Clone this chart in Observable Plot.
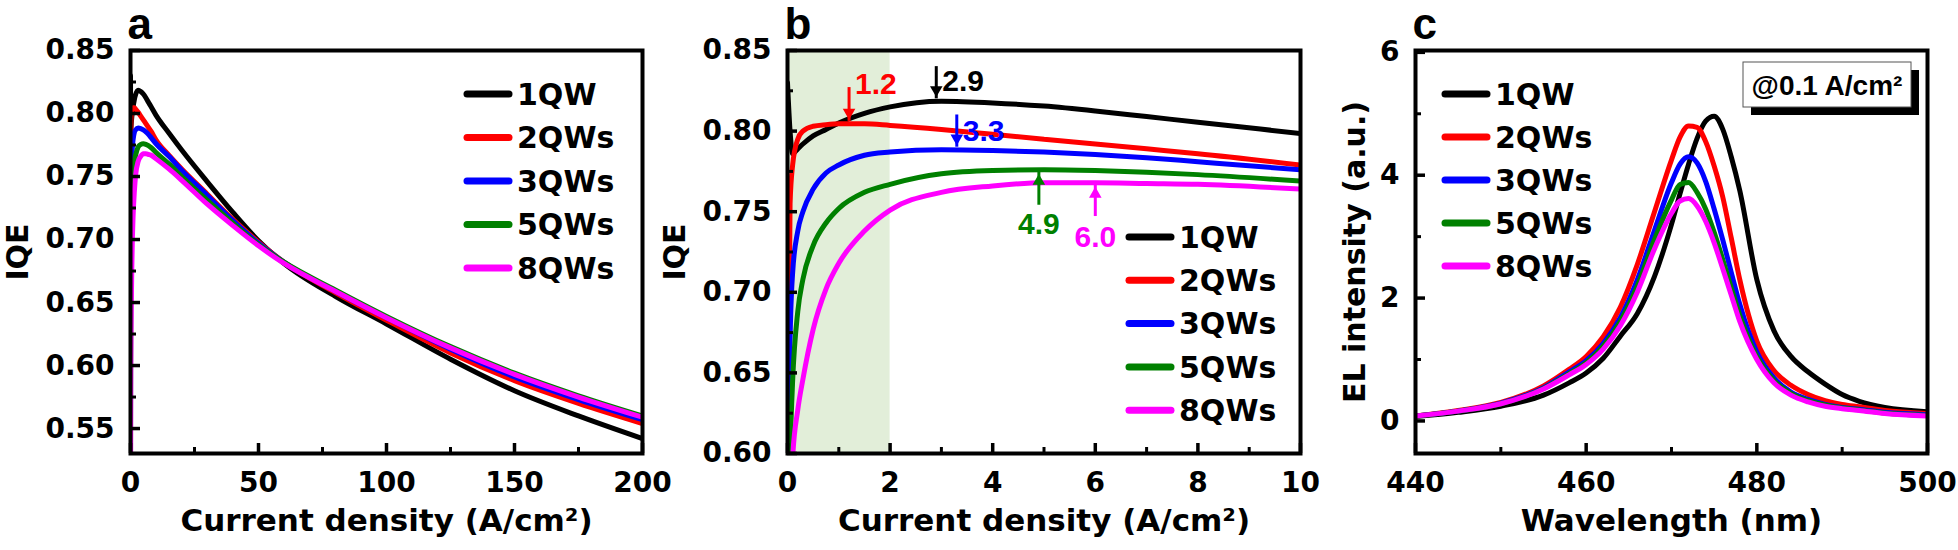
<!DOCTYPE html>
<html>
<head>
<meta charset="utf-8">
<script src="https://cdn.jsdelivr.net/npm/d3@7"></script>
<script src="https://cdn.jsdelivr.net/npm/@observablehq/plot@0.6"></script>
<style>
  body { margin: 0; background: #fff; }
  #wrap { position: relative; width: 1958px; height: 550px; overflow: hidden; background: #fff; }
  #wrap > div { position: absolute; top: 0; }
  svg { overflow: visible; background: transparent; }
</style>
</head>
<body>
<div id="wrap"><div id="pa"></div><div id="pb"></div><div id="pc"></div></div>
<script>
// ---------------- data ----------------
const seriesNames = ["1QW", "2QWs", "3QWs", "5QWs", "8QWs"];
const seriesColors = ["#000000", "#ff0000", "#0000ff", "#008000", "#ff00ff"];

// current density (A/cm2)
const J = [0, 0.05, 0.1, 0.2, 0.3, 0.5, 0.75, 1, 1.5, 2, 3, 4, 5, 6, 7, 8, 10, 15, 20, 30, 40, 50, 60, 80, 100, 125, 150, 175, 200];
const iqe1QW  = [0.830, 0.800, 0.786, 0.789, 0.792, 0.797, 0.801, 0.805, 0.811, 0.815, 0.8185, 0.8175, 0.8155, 0.8125, 0.8090, 0.8055, 0.7985, 0.7845, 0.7710, 0.7458, 0.7215, 0.6990, 0.6810, 0.6550, 0.6330, 0.6050, 0.5800, 0.5600, 0.5420];
const iqe2QWs = [0.560, 0.755, 0.779, 0.795, 0.800, 0.803, 0.804, 0.8045, 0.8045, 0.8035, 0.801, 0.798, 0.795, 0.792, 0.789, 0.786, 0.779, 0.767, 0.756, 0.736, 0.716, 0.698, 0.682, 0.658, 0.636, 0.610, 0.588, 0.570, 0.554];
const iqe3QWs = [0.540, 0.670, 0.712, 0.738, 0.750, 0.764, 0.774, 0.779, 0.785, 0.787, 0.7885, 0.788, 0.787, 0.7855, 0.7835, 0.781, 0.776, 0.766, 0.755, 0.735, 0.715, 0.697, 0.682, 0.659, 0.638, 0.613, 0.591, 0.573, 0.557];
const iqe5QWs = [0.520, 0.600, 0.645, 0.688, 0.708, 0.729, 0.743, 0.752, 0.762, 0.767, 0.7735, 0.7755, 0.776, 0.7755, 0.7745, 0.773, 0.769, 0.760, 0.750, 0.731, 0.713, 0.696, 0.682, 0.660, 0.639, 0.615, 0.594, 0.576, 0.560];
const iqe8QWs = [0.450, 0.520, 0.597, 0.627, 0.646, 0.677, 0.702, 0.718, 0.738, 0.751, 0.762, 0.766, 0.768, 0.768, 0.7675, 0.767, 0.764, 0.756, 0.747, 0.728, 0.711, 0.695, 0.681, 0.659, 0.638, 0.614, 0.593, 0.575, 0.559];
const iqeSeries = [iqe1QW, iqe2QWs, iqe3QWs, iqe5QWs, iqe8QWs];

// EL spectra @0.1 A/cm2
const wavelength = [440, 445, 450, 455, 458, 460, 462, 464, 466, 468, 470, 471, 472, 473, 474, 475, 476, 477, 478, 480, 482, 484, 486, 488, 490, 492, 495, 500];
const el1QW  = [0.07, 0.14, 0.24, 0.42, 0.62, 0.78, 1.02, 1.38, 1.75, 2.35, 3.20, 3.70, 4.18, 4.60, 4.88, 4.96, 4.75, 4.30, 3.75, 2.30, 1.47, 1.05, 0.80, 0.60, 0.43, 0.32, 0.22, 0.15];
const el2QWs = [0.08, 0.17, 0.30, 0.57, 0.84, 1.05, 1.37, 1.85, 2.55, 3.40, 4.25, 4.62, 4.80, 4.78, 4.55, 4.15, 3.65, 2.98, 2.30, 1.30, 0.82, 0.58, 0.43, 0.33, 0.27, 0.23, 0.17, 0.12];
const el3QWs = [0.08, 0.16, 0.29, 0.54, 0.80, 0.98, 1.26, 1.68, 2.30, 3.10, 3.88, 4.18, 4.30, 4.20, 3.90, 3.45, 2.95, 2.42, 1.90, 1.12, 0.70, 0.47, 0.35, 0.27, 0.22, 0.19, 0.14, 0.10];
const el5QWs = [0.08, 0.16, 0.28, 0.53, 0.77, 0.95, 1.22, 1.62, 2.20, 2.95, 3.60, 3.85, 3.88, 3.72, 3.45, 3.07, 2.63, 2.17, 1.72, 1.05, 0.66, 0.45, 0.33, 0.26, 0.21, 0.18, 0.13, 0.09];
const el8QWs = [0.08, 0.16, 0.28, 0.52, 0.75, 0.92, 1.17, 1.55, 2.10, 2.80, 3.38, 3.58, 3.62, 3.50, 3.25, 2.90, 2.48, 2.05, 1.62, 1.00, 0.62, 0.42, 0.31, 0.24, 0.20, 0.17, 0.12, 0.08];
const elSeries = [el1QW, el2QWs, el3QWs, el5QWs, el8QWs];

// panel b peak annotations
const peakJ      = [1.2, 2.9, 3.3, 4.9, 6.0];
const peakText   = ["1.2", "2.9", "3.3", "4.9", "6.0"];
const peakSeries = [1, 0, 2, 3, 4];
const peakDown   = [true, true, true, false, false];
const arrowTip   = [0.806, 0.820, 0.790, 0.7745, 0.7665];
const arrowTail  = [0.827, 0.840, 0.810, 0.754, 0.747];
const peakLabelY = [0.829, 0.831, 0.800, 0.742, 0.734];
const shadeJ = [0, 2];

// axes ticks
const aXMajor = [0, 50, 100, 150, 200], aXMinor = [25, 75, 125, 175];
const aYMajor = [0.55, 0.60, 0.65, 0.70, 0.75, 0.80, 0.85], aYMinor = [0.575, 0.625, 0.675, 0.725, 0.775, 0.825];
const bXMajor = [0, 2, 4, 6, 8, 10], bXMinor = [1, 3, 5, 7, 9];
const bYMajor = [0.60, 0.65, 0.70, 0.75, 0.80, 0.85], bYMinor = [0.625, 0.675, 0.725, 0.775, 0.825];
const cXMajor = [440, 460, 480, 500], cXMinor = [450, 470, 490];
const cYMajor = [0, 2, 4, 6], cYMinor = [1, 3, 5];

// ---------------- drawing ----------------
const FONT = "'DejaVu Sans', 'Liberation Sans', sans-serif";   // axes, legends
const AFONT = "'Liberation Sans', Arial, sans-serif";          // letters, annotations
const H = 550;

function makePanel(cfg) {
  const {width, ml, mr, mt, mb} = cfg;
  const fw = width - ml - mr, fh = H - mt - mb;
  const marks = [];
  if (cfg.before) marks.push(...cfg.before);
  cfg.series.forEach((ys, i) => {
    const rows = cfg.xs.map((x, k) => ({x, y: ys[k]}))
      .filter(d => d.x >= cfg.xDomain[0] && d.x <= cfg.xDomain[1]);
    marks.push(Plot.line(rows, {x: "x", y: "y", stroke: seriesColors[i], strokeWidth: 5,
      curve: "monotone-x", clip: true, strokeLinejoin: "round"}));
  });
  if (cfg.after) marks.push(...cfg.after);
  marks.push(
    Plot.tickX(cfg.xMajor, {x: d => d, insetTop: fh - 10, stroke: "black", strokeWidth: 3.5}),
    Plot.tickX(cfg.xMinor, {x: d => d, insetTop: fh - 6, stroke: "black", strokeWidth: 3}),
    Plot.tickY(cfg.yMajor, {y: d => d, insetRight: fw - 10, stroke: "black", strokeWidth: 3.5}),
    Plot.tickY(cfg.yMinor, {y: d => d, insetRight: fw - 6, stroke: "black", strokeWidth: 3}),
    Plot.frame({stroke: "black", strokeWidth: 4}),
    Plot.text([cfg.xLabel], {frameAnchor: "bottom", textAnchor: "middle", lineAnchor: "middle", dy: 68,
      text: d => d, fontSize: 31, fontWeight: "bold", fontFamily: FONT}),
    Plot.text([cfg.yLabel], {frameAnchor: "left", textAnchor: "middle", lineAnchor: "middle",
      dx: -cfg.yLabelOffset, rotate: -90, text: d => d, fontSize: 30, fontWeight: "bold", fontFamily: FONT}),
    Plot.text([cfg.letter], {frameAnchor: "top-left", textAnchor: "start", lineAnchor: "bottom",
      dx: -3, dy: -12, text: d => d, fontSize: 44, fontWeight: "bold", fontFamily: AFONT})
  );
  const svg = Plot.plot({
    width, height: H, marginLeft: ml, marginRight: mr, marginTop: mt, marginBottom: mb,
    style: {fontFamily: FONT, fontWeight: "bold", fontSize: "28px", color: "black", background: "transparent", overflow: "visible"},
    x: {domain: cfg.xDomain, ticks: cfg.xMajor, tickSize: 0, tickPadding: 19, tickFormat: cfg.xFmt, label: null},
    y: {domain: cfg.yDomain, ticks: cfg.yMajor, tickSize: 0, tickPadding: 16, tickFormat: cfg.yFmt, label: null},
    marks
  });
  // legend (decoration placed relative to the frame)
  const g = d3.select(svg).append("g").attr("text-anchor", "start");
  seriesNames.forEach((name, i) => {
    const y = mt + cfg.legend.top + i * cfg.legend.row;
    const x0 = ml + cfg.legend.left;
    g.append("line").attr("x1", x0).attr("x2", x0 + 42).attr("y1", y).attr("y2", y)
      .attr("stroke", seriesColors[i]).attr("stroke-width", 7).attr("stroke-linecap", "round");
    g.append("text").attr("x", x0 + 50).attr("y", y).attr("dy", "0.36em")
      .attr("text-anchor", "start")
      .attr("font-family", FONT).attr("font-weight", "bold").attr("font-size", 30)
      .attr("fill", "black").text(name);
  });
  return {svg, fw, fh};
}

function place(id, left, width, node) {
  const el = document.getElementById(id);
  el.style.left = left + "px";
  el.style.width = width + "px";
  el.appendChild(node);
}

// panel a
const pa = makePanel({
  width: 660, ml: 130, mr: 18, mt: 50, mb: 97,
  xs: J, series: iqeSeries, xDomain: [0, 200], yDomain: [0.5302, 0.85],
  xMajor: aXMajor, xMinor: aXMinor, yMajor: aYMajor, yMinor: aYMinor,
  xFmt: d3.format("d"), yFmt: d3.format(".2f"),
  xLabel: "Current density (A/cm²)", yLabel: "IQE", yLabelOffset: 112, letter: "a",
  legend: {left: 337, top: 44, row: 43.5}
});
place("pa", 0, 660, pa.svg);

// panel b
const annotMarks = [];
peakJ.forEach((j, i) => {
  const color = seriesColors[peakSeries[i]];
  const a = {j, tip: arrowTip[i], tail: arrowTail[i], ly: peakLabelY[i], t: peakText[i]};
  annotMarks.push(
    Plot.ruleX([a], {x: "j", y1: "tail", y2: "tip", stroke: color, strokeWidth: 3}),
    Plot.dot([a], {x: "j", y: "tip", symbol: "triangle2", r: 6, fill: color, stroke: "none",
      rotate: peakDown[i] ? 180 : 0, dy: peakDown[i] ? -9 : 9}),
    Plot.text([a], {x: "j", y: "ly", text: "t", fill: color, fontSize: 30, fontWeight: "bold",
      fontFamily: AFONT, textAnchor: peakDown[i] ? "start" : "middle", lineAnchor: "middle", dx: peakDown[i] ? 6 : 0})
  );
});
const pb = makePanel({
  width: 660, ml: 127, mr: 20, mt: 50, mb: 97,
  xs: J, series: iqeSeries, xDomain: [0, 10], yDomain: [0.60, 0.85],
  xMajor: bXMajor, xMinor: bXMinor, yMajor: bYMajor, yMinor: bYMinor,
  xFmt: d3.format("d"), yFmt: d3.format(".2f"),
  xLabel: "Current density (A/cm²)", yLabel: "IQE", yLabelOffset: 112, letter: "b",
  before: [Plot.rect([{x1: shadeJ[0], x2: shadeJ[1]}], {x1: "x1", x2: "x2", fill: "#e2eed9"})],
  after: annotMarks,
  legend: {left: 342, top: 187, row: 43.3}
});
place("pb", 660, 660, pb.svg);

// panel c
const pc = makePanel({
  width: 638, ml: 95, mr: 31, mt: 50, mb: 97,
  xs: wavelength, series: elSeries, xDomain: [440, 500], yDomain: [-0.53, 6.03],
  xMajor: cXMajor, xMinor: cXMinor, yMajor: cYMajor, yMinor: cYMinor,
  xFmt: d3.format("d"), yFmt: d3.format("d"),
  xLabel: "Wavelength (nm)", yLabel: "EL intensity (a.u.)", yLabelOffset: 60, letter: "c",
  legend: {left: 30, top: 44, row: 43}
});
{
  const g = d3.select(pc.svg).append("g");
  const right = 95 + pc.fw;
  const bx = right - 184, by = 50 + 12, bw = 168, bh = 45;
  g.append("rect").attr("x", bx + 8).attr("y", by + 8).attr("width", bw).attr("height", bh).attr("fill", "black");
  g.append("rect").attr("x", bx).attr("y", by).attr("width", bw).attr("height", bh)
    .attr("fill", "white").attr("stroke", "#555").attr("stroke-width", 1);
  g.append("text").attr("x", bx + bw / 2).attr("y", by + bh / 2).attr("dy", "0.36em")
    .attr("text-anchor", "middle").attr("font-family", AFONT).attr("font-weight", "bold")
    .attr("font-size", 28).attr("fill", "black").text("@0.1 A/cm²");
}
place("pc", 1320, 638, pc.svg);
</script>
</body>
</html>
